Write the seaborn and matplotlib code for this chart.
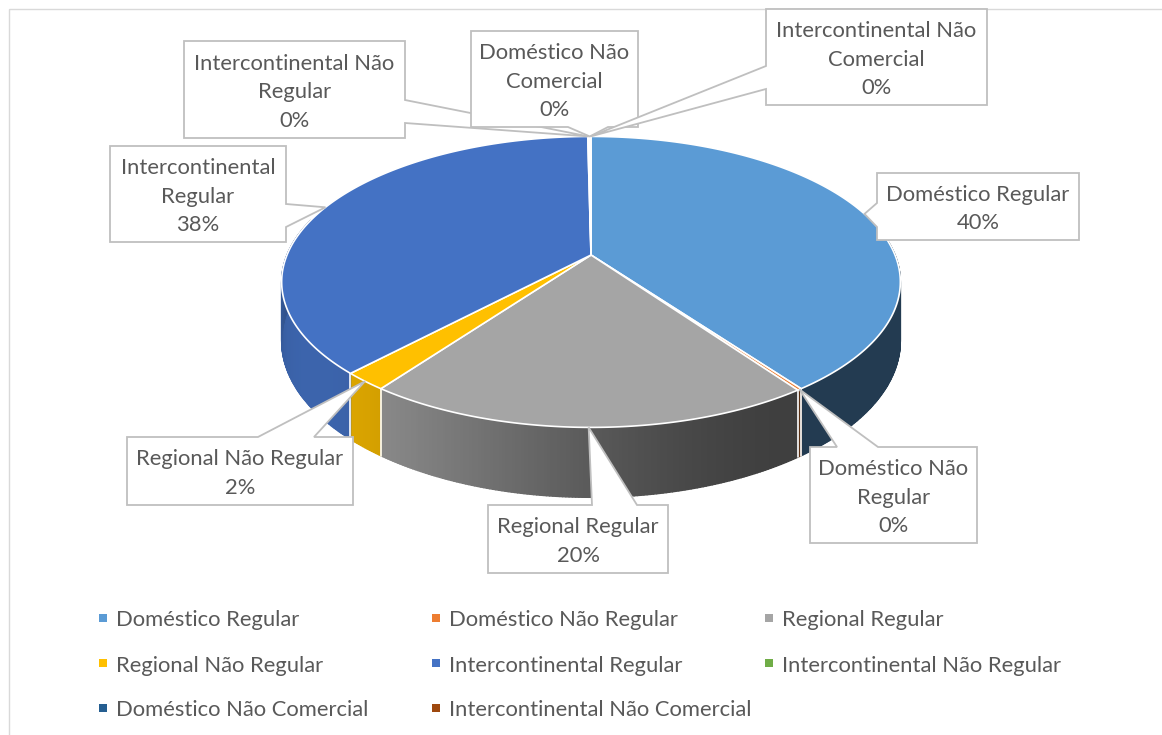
import numpy as np
import matplotlib
matplotlib.use("Agg")
import matplotlib.pyplot as plt
import seaborn as sns
from matplotlib.collections import PolyCollection
from matplotlib.patches import Polygon, Rectangle
from matplotlib.colors import to_rgb

# ---------------- data ----------------
categories = ["Doméstico Regular", "Doméstico Não Regular", "Regional Regular",
              "Regional Não Regular", "Intercontinental Regular",
              "Intercontinental Não Regular", "Doméstico Não Comercial",
              "Intercontinental Não Comercial"]
values = [40.0, 0.2, 19.8, 2.0, 37.8, 0.1, 0.05, 0.05]
colors = ["#5B9BD5", "#ED7D31", "#A5A5A5", "#FFC000",
          "#4472C4", "#70AD47", "#255E91", "#9E480E"]
label_lines = [["Doméstico Regular"], ["Doméstico Não", "Regular"],
               ["Regional Regular"], ["Regional Não Regular"],
               ["Intercontinental", "Regular"], ["Intercontinental Não", "Regular"],
               ["Doméstico Não", "Comercial"], ["Intercontinental Não", "Comercial"]]

# ---------------- layout ----------------
W, H = 1162, 735
CX, CY = 591, 255          # projected pie centre (px)
RA, RB = 304, 140.5        # ellipse radii
KP = 0.185                 # perspective factor
DEPTH = 57                 # wall height
TXT = "#595959"
FONT = "Lato"
FS = 15.8
TY = 2.5                   # text baseline nudge (px)

# callout boxes: (x0, y0, x1, y1, side, base0, base1)
boxes = [
    (877, 173, 1079, 240, "left", 203, 227),
    (810, 447, 977, 543, "top", 837, 878),
    (488, 505, 668, 573, "top", 592, 637),
    (127, 437, 353, 505, "top", 258, 314),
    (110, 146, 286, 242, "right", 204, 227),
    (184, 41, 405, 138, "right", 100, 123),
    (471, 31, 638, 127, "bottom", 568, 608),
    (766, 9, 987, 105, "left", 66, 89),
]

sns.set_theme(style="white")
plt.rcParams["font.family"] = [FONT, "DejaVu Sans"]

fig = plt.figure(figsize=(W / 100, H / 100), dpi=100)
ax = fig.add_axes([0, 0, 1, 1])
ax.set_xlim(0, W)
ax.set_ylim(H, 0)
ax.axis("off")


def proj(theta, depth=0.0):
    t = np.radians(theta)
    u, v = np.sin(t), -np.cos(t)
    s = 1.0 / (1.0 - KP * v)
    return CX + RA * u * s, CY + RB * v * s + depth * DEPTH * s


def shade(theta):
    t = np.radians(theta)
    n = np.array([np.sin(t), -np.cos(t)])
    L = np.array([np.sin(np.radians(235)), -np.cos(np.radians(235))])
    d = max(0.0, float(n @ L))
    return 0.38 + 0.5 * d ** 2


total = sum(values)
bounds = np.concatenate([[0], np.cumsum(values) / total * 360.0])

# ---- walls ----
polys, fcs = [], []
for i, c in enumerate(colors):
    a, b = max(bounds[i], 75), min(bounds[i + 1], 285)
    if b <= a:
        continue
    n = max(2, int((b - a) / 0.5) + 1)
    th = np.linspace(a, b, n)
    base = np.array(to_rgb(c))
    for t0, t1 in zip(th[:-1], th[1:]):
        x0, y0 = proj(t0)
        x1, y1 = proj(t1)
        x2, y2 = proj(t1, 1)
        x3, y3 = proj(t0, 1)
        polys.append([(x0, y0), (x1, y1), (x2, y2), (x3, y3)])
        fcs.append(np.clip(base * shade((t0 + t1) / 2), 0, 1))
pc = PolyCollection(polys, facecolors=fcs, edgecolors=fcs, linewidths=1.0, zorder=1)
ax.add_collection(pc)
for bd in bounds:
    if 80 < bd < 280:
        xa, ya = proj(bd)
        xb, yb = proj(bd, 1)
        ax.plot([xa, xb], [ya, yb], color="white", lw=1.2, zorder=2)

# ---- top faces ----
for i, c in enumerate(colors):
    th = np.linspace(bounds[i], bounds[i + 1], max(2, int(values[i] * 8)))
    xs, ys = proj(th)
    verts = [(CX, CY)] + list(zip(xs, ys))
    ax.add_patch(Polygon(verts, closed=True, facecolor=c, edgecolor="white",
                         lw=1.2, joinstyle="round", zorder=3))

# ---- callouts ----
for i, (x0, y0, x1, y1, side, b0, b1) in enumerate(boxes):
    tip = proj((bounds[i] + bounds[i + 1]) / 2)
    if side == "left":
        v = [(x0, y0), (x1, y0), (x1, y1), (x0, y1), (x0, b1), tip, (x0, b0)]
    elif side == "right":
        v = [(x0, y0), (x1, y0), (x1, b0), tip, (x1, b1), (x1, y1), (x0, y1)]
    elif side == "top":
        v = [(x0, y0), (b0, y0), tip, (b1, y0), (x1, y0), (x1, y1), (x0, y1)]
    else:
        v = [(x0, y0), (x1, y0), (x1, y1), (b1, y1), tip, (b0, y1), (x0, y1)]
    ax.add_patch(Polygon(v, closed=True, facecolor="white", edgecolor="#BFBFBF",
                         lw=1.3, zorder=5 + i))
    lines = label_lines[i] + [f"{round(values[i] / total * 100)}%"]
    yc = (y0 + y1) / 2 + TY
    n = len(lines)
    for j, s in enumerate(lines):
        ax.text((x0 + x1) / 2, yc + (j - (n - 1) / 2) * 28.5, s, ha="center",
                va="center", fontsize=FS, color=TXT, zorder=5 + i + 0.5)

# ---- legend ----
row_y = [618, 663, 708]
col_x = [103, 436, 769]
for i, (cat, c) in enumerate(zip(categories, colors)):
    r, k = divmod(i, 3)
    ax.scatter([col_x[k]], [row_y[r]], marker="s", s=26, color=c, linewidths=0, zorder=4)
    ax.text(col_x[k] + 13, row_y[r] + TY, cat, ha="left", va="center",
            fontsize=FS, color=TXT, zorder=4)

# chart border
ax.add_patch(Rectangle((9, 9), W + 50, H + 50, facecolor="none",
                       edgecolor="#D9D9D9", lw=1.0, zorder=0))

fig.savefig("out.png", dpi=100, facecolor="white")
